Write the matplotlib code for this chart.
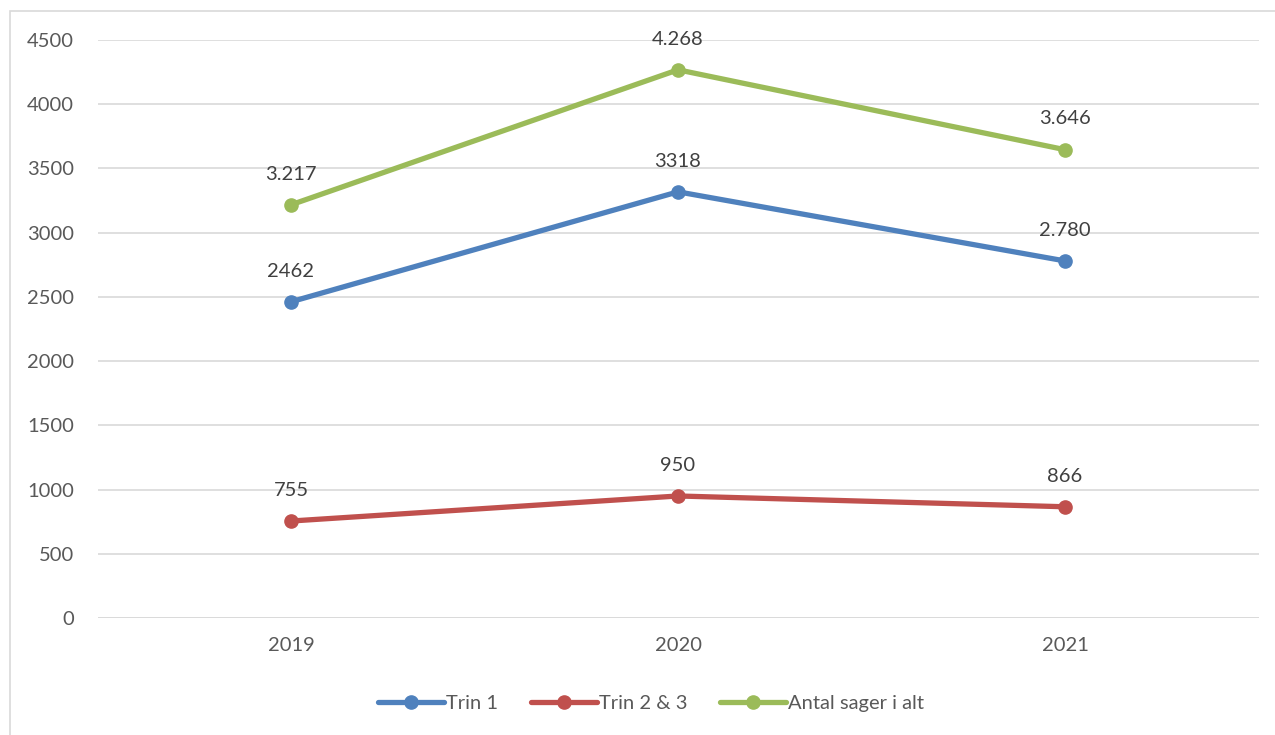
import matplotlib
matplotlib.use("Agg")
import matplotlib.pyplot as plt
from matplotlib.patches import Rectangle

years = ["2019", "2020", "2021"]
trin1 = [2462, 3318, 2780]
trin23 = [755, 950, 866]
total = [3217, 4268, 3646]
trin1_labels = ["2462", "3318", "2.780"]
trin23_labels = ["755", "950", "866"]
total_labels = ["3.217", "4.268", "3.646"]
series_names = ["Trin 1", "Trin 2 & 3", "Antal sager i alt"]
yticks = [0, 500, 1000, 1500, 2000, 2500, 3000, 3500, 4000, 4500]

plt.rcParams['font.family'] = ['Lato', 'DejaVu Sans']
W, H = 1275, 735
fig = plt.figure(figsize=(W/100, H/100), dpi=100)
fig.patches.append(Rectangle((10/W, -0.1), 1.2, 1 - 11/H + 0.1, transform=fig.transFigure,
                             fill=False, edgecolor="#d9d9d9", linewidth=1.2))
ax = fig.add_axes([97.5/W, (H-618)/H, (1258.5-97.5)/W, 578/H])

colors = ["#4F81BD", "#C0504D", "#9BBB59"]
FS = 14.5
x = list(range(len(years)))
for vals, labs, name, c in [(trin1, trin1_labels, series_names[0], colors[0]),
                            (trin23, trin23_labels, series_names[1], colors[1]),
                            (total, total_labels, series_names[2], colors[2])]:
    ax.plot(x, vals, color=c, linewidth=3.8, marker='o', markersize=9.5,
            label=name, solid_capstyle='round')
    for xi, v, l in zip(x, vals, labs):
        ax.annotate(l, (xi, v), xytext=(0, 16), textcoords='offset points',
                    ha='center', va='bottom', fontsize=FS, color="#404040")

ax.set_xlim(-0.5, 2.5)
ax.set_ylim(0, 4500)
ax.set_xticks(x)
ax.set_xticklabels(years)
ax.set_yticks(yticks)
ax.tick_params(axis='both', length=0, labelsize=FS, colors="#595959")
ax.tick_params(axis='x', pad=14)
ax.tick_params(axis='y', pad=17)
ax.grid(axis='y', color="#d9d9d9", linewidth=1.2)
ax.set_axisbelow(True)
for s in ax.spines.values():
    s.set_visible(False)
ax.axhline(0, color="#d9d9d9", linewidth=1.2, zorder=0)

leg = fig.legend(loc='center', bbox_to_anchor=(651/W, (H-703)/H), ncol=3, frameon=False,
                 fontsize=FS, handlelength=3.3, columnspacing=1.6, handletextpad=0.1)
for t in leg.get_texts():
    t.set_color("#595959")

fig.savefig("out.png", dpi=100)
